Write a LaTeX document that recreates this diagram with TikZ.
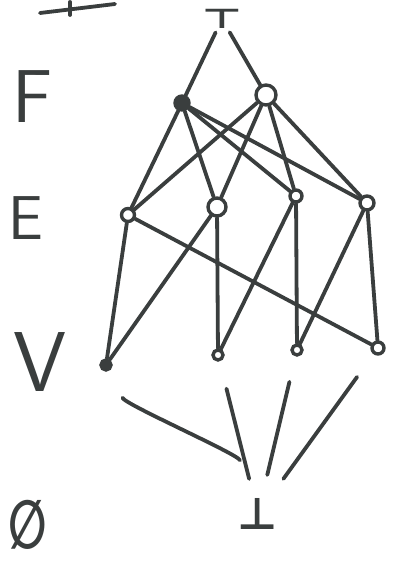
\documentclass[tikz,border=0pt]{standalone}
\usepackage{fontspec}
\newfontfamily\symfnt{DejaVu Sans}
\definecolor{ink}{RGB}{58,62,62}
\tikzset{
  edge/.style={draw=ink, line width=3.8pt, line cap=round},
  vtx/.style={circle, draw=ink, line width=3.4pt, inner sep=0pt},
  lvl/.style={text=ink, inner sep=0pt, font=\sffamily},
}
\begin{document}
\begin{tikzpicture}[x=1pt,y=-1pt]
\useasboundingbox (0,0) rectangle (392,567);
% cut-off stroke at top left
\draw[edge] (40,13) -- (115,4);
\draw[edge] (70,2) -- (70,15);
% level labels
\node[lvl, font=\sffamily\fontsize{75}{75}\selectfont] (lF) at (33,97) {F};
\node[lvl, font=\sffamily\fontsize{62}{62}\selectfont] (lE) at (26,218) {E};
\node[lvl, font=\sffamily\fontsize{85}{85}\selectfont] (lV) at (40,362) {V};
\node[lvl, font=\symfnt\bfseries\fontsize{50}{50}\selectfont] (lO) at (28,525) {\scalebox{0.9}[1.35]{∅}};
% lattice elements
\node[text=ink, inner sep=0pt, font=\symfnt\bfseries\fontsize{44}{44}\selectfont] (top) at (222,19) {\scalebox{1}[0.62]{⊤}};
\node[vtx, fill=ink, minimum size=14pt] (F1) at (182,103) {};
\node[vtx, minimum size=20pt] (F2) at (266,95) {};
\node[vtx, minimum size=13pt] (E1) at (128,215) {};
\node[vtx, minimum size=18pt] (E2) at (217,207) {};
\node[vtx, minimum size=12pt] (E3) at (296,196) {};
\node[vtx, minimum size=14pt] (E4) at (367,203) {};
\node[vtx, fill=ink, minimum size=10pt] (V1) at (106,365) {};
\node[vtx, minimum size=10pt] (V2) at (218,355) {};
\node[vtx, minimum size=10pt] (V3) at (297,350) {};
\node[vtx, minimum size=12pt] (V4) at (378,348) {};
\node[text=ink, inner sep=0pt, font=\symfnt\bfseries\fontsize{44}{44}\selectfont] (bot) at (258,514) {⊥};
% top to faces
\draw[edge, shorten <=4pt] (top) -- (F1);
\draw[edge, shorten <=4pt] (top) -- (F2);
% faces to edges
\foreach \f in {F1,F2}{
  \foreach \e in {E1,E2,E3,E4}{
    \draw[edge] (\f) -- (\e);
  }
}
% edges to vertices
\draw[edge] (E1) -- (V1);
\draw[edge] (E1) -- (V4);
\draw[edge] (E2) -- (V1);
\draw[edge] (E2) -- (V2);
\draw[edge] (E3) -- (V2);
\draw[edge] (E3) -- (V3);
\draw[edge] (E4) -- (V3);
\draw[edge] (E4) -- (V4);
% vertices to bottom
\draw[edge, shorten <=30pt, shorten >=40pt] (V1) .. controls +(20,40) and +(-20,-60) .. (bot);
\draw[edge, shorten <=28pt, shorten >=20pt] (V2) -- (bot);
\draw[edge, shorten <=26pt, shorten >=24pt] (V3) -- (bot);
\draw[edge, shorten <=28pt, shorten >=24pt] (V4) -- (bot);
\end{tikzpicture}
\end{document}
